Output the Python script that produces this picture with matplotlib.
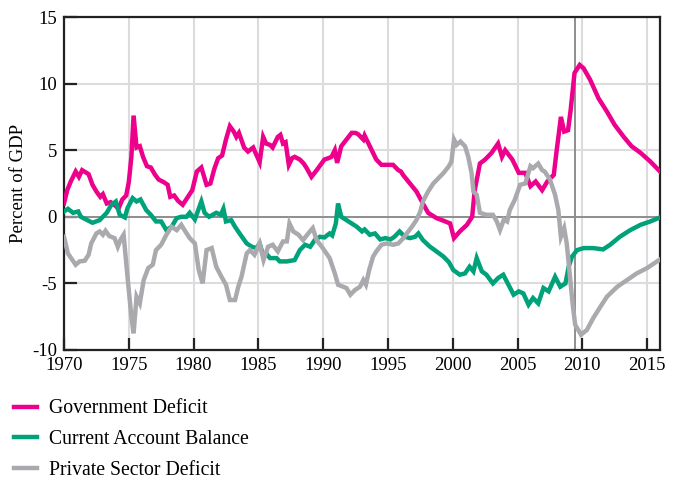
import matplotlib
matplotlib.use("Agg")
import matplotlib.pyplot as plt
from matplotlib.lines import Line2D

plt.rcParams['font.family'] = ['Liberation Serif', 'DejaVu Serif']
plt.rcParams['axes.unicode_minus'] = False

# Government Deficit (percent of GDP)
gov_years = [1970.0, 1970.25, 1970.5, 1970.9, 1971.15, 1971.4, 1971.9, 1972.2, 1972.5, 1972.8,
             1973.0, 1973.3, 1973.6, 1974.0, 1974.2, 1974.5, 1974.8, 1975.0, 1975.2, 1975.37,
             1975.6, 1975.85, 1976.1, 1976.4, 1976.7, 1977.0, 1977.3, 1977.7, 1978.0, 1978.2,
             1978.5, 1978.8, 1979.16, 1979.5, 1979.9, 1980.25, 1980.6, 1981.0, 1981.3, 1981.6,
             1981.9, 1982.2, 1982.5, 1982.8, 1983.1, 1983.3, 1983.5, 1983.9, 1984.2, 1984.6,
             1985.1, 1985.37, 1985.6, 1985.9, 1986.1, 1986.5, 1986.7, 1986.9, 1987.1, 1987.35,
             1987.6, 1987.8, 1988.2, 1988.5, 1988.7, 1989.1, 1989.5, 1989.8, 1990.1, 1990.4,
             1990.65, 1990.9, 1991.08, 1991.4, 1991.8, 1992.2, 1992.5, 1992.7, 1993.1, 1993.2,
             1993.6, 1994.1, 1994.5, 1995.0, 1995.4, 1995.8, 1996.0, 1996.2, 1996.7, 1997.2,
             1997.7, 1998.1, 1998.75, 1999.3, 1999.8, 2000.1, 2000.55, 2001.1, 2001.5, 2001.7,
             2002.1, 2002.5, 2003.0, 2003.5, 2003.8, 2004.05, 2004.6, 2005.1, 2005.6, 2006.0,
             2006.4, 2006.9, 2007.3, 2007.8, 2008.0, 2008.35, 2008.6, 2008.9, 2009.1, 2009.4,
             2009.8, 2010.1, 2010.6, 2011.25, 2011.9, 2012.5, 2013.2, 2013.8, 2014.5, 2015.25,
             2016.0]
gov_deficit = [1.0, 2.0, 2.6, 3.4, 3.0, 3.5, 3.2, 2.4, 1.9, 1.5,
               1.7, 1.0, 1.1, 0.8, 0.6, 1.3, 1.6, 2.6, 4.5, 7.6,
               5.2, 5.3, 4.5, 3.8, 3.7, 3.2, 2.8, 2.6, 2.4, 1.5,
               1.6, 1.2, 0.9, 1.4, 2.0, 3.4, 3.7, 2.4, 2.5, 3.6,
               4.4, 4.6, 5.8, 6.8, 6.4, 6.0, 6.3, 5.2, 4.9, 5.2,
               4.1, 6.0, 5.5, 5.4, 5.2, 6.0, 6.15, 5.5, 5.6, 3.9,
               4.4, 4.5, 4.3, 4.0, 3.7, 3.0, 3.5, 3.9, 4.3, 4.4,
               4.5, 5.0, 4.05, 5.3, 5.8, 6.3, 6.3, 6.2, 5.8, 6.1,
               5.3, 4.3, 3.9, 3.9, 3.9, 3.5, 3.4, 3.1, 2.5, 1.9,
               1.0, 0.3, -0.1, -0.3, -0.5, -1.6, -1.1, -0.6, 0.0, 2.0,
               4.0, 4.3, 4.8, 5.5, 4.5, 5.0, 4.3, 3.3, 3.3, 2.3,
               2.65, 2.0, 2.65, 3.15, 4.8, 7.5, 6.4, 6.5, 8.0, 10.8,
               11.4, 11.15, 10.3, 8.9, 7.9, 6.9, 6.0, 5.3, 4.8, 4.15,
               3.4]

# Current Account Balance
ca_years = [1970.0, 1970.3, 1970.7, 1971.1, 1971.3, 1971.7, 1972.2, 1972.75, 1973.3, 1973.65,
            1974.0, 1974.3, 1974.7, 1974.9, 1975.3, 1975.6, 1975.9, 1976.35, 1976.7, 1977.1,
            1977.5, 1977.9, 1978.3, 1978.7, 1979.05, 1979.45, 1979.7, 1980.1, 1980.6, 1980.85,
            1981.2, 1981.75, 1982.1, 1982.3, 1982.5, 1982.9, 1983.2, 1983.55, 1984.1, 1984.5,
            1984.85, 1985.1, 1985.4, 1985.6, 1985.9, 1986.4, 1986.65, 1987.2, 1987.8, 1988.2,
            1988.6, 1989.0, 1989.35, 1989.75, 1990.1, 1990.5, 1990.7, 1990.98, 1991.15, 1991.4,
            1991.8, 1992.2, 1992.6, 1993.0, 1993.2, 1993.6, 1994.0, 1994.4, 1994.8, 1995.2,
            1995.5, 1995.9, 1996.3, 1996.7, 1997.1, 1997.35, 1997.7, 1998.25, 1998.75, 1999.3,
            1999.7, 2000.05, 2000.55, 2000.95, 2001.3, 2001.6, 2001.85, 2002.25, 2002.6, 2003.1,
            2003.5, 2003.9, 2004.3, 2004.7, 2005.1, 2005.45, 2005.85, 2006.2, 2006.6, 2007.0,
            2007.4, 2007.9, 2008.3, 2008.7, 2008.95, 2009.2, 2009.6, 2010.1, 2010.85, 2011.6,
            2012.15, 2012.9, 2013.7, 2014.5, 2015.25, 2016.0]
current_account = [0.4, 0.6, 0.3, 0.4, 0.0, -0.2, -0.45, -0.25, 0.3, 0.9,
                   1.15, 0.15, -0.05, 0.65, 1.4, 1.15, 1.3, 0.5, 0.15, -0.35,
                   -0.35, -1.0, -0.75, -0.1, 0.0, 0.0, 0.3, -0.2, 1.15, 0.3,
                   0.0, 0.3, 0.15, 0.6, -0.35, -0.25, -0.75, -1.25, -2.0, -2.25,
                   -2.35, -2.0, -3.0, -2.75, -3.1, -3.1, -3.35, -3.35, -3.25, -2.5,
                   -2.1, -2.25, -1.75, -1.5, -1.55, -1.25, -1.4, -0.5, 1.0, 0.0,
                   -0.25, -0.5, -0.75, -1.1, -0.95, -1.35, -1.25, -1.7, -1.6, -1.7,
                   -1.5, -1.1, -1.5, -1.6, -1.5, -1.25, -1.75, -2.25, -2.6, -3.0,
                   -3.4, -4.0, -4.35, -4.25, -3.75, -4.1, -3.1, -4.1, -4.35, -5.0,
                   -4.6, -4.35, -5.1, -5.85, -5.6, -5.75, -6.6, -6.1, -6.5, -5.35,
                   -5.6, -4.5, -5.25, -5.0, -3.75, -3.0, -2.5, -2.35, -2.35, -2.45,
                   -2.1, -1.5, -1.0, -0.6, -0.35, -0.05]

# Private Sector Deficit
ps_years = [1970.0, 1970.3, 1970.55, 1970.9, 1971.2, 1971.6, 1971.9, 1972.1, 1972.5, 1972.75,
            1973.0, 1973.2, 1973.5, 1973.9, 1974.15, 1974.35, 1974.6, 1974.9, 1975.2, 1975.37,
            1975.6, 1975.85, 1976.15, 1976.5, 1976.85, 1977.1, 1977.5, 1977.9, 1978.3, 1978.7,
            1979.05, 1979.3, 1979.7, 1980.1, 1980.4, 1980.7, 1981.0, 1981.4, 1981.75, 1982.15,
            1982.5, 1982.8, 1983.2, 1983.45, 1983.7, 1984.1, 1984.35, 1984.7, 1985.1, 1985.4,
            1985.75, 1986.1, 1986.5, 1986.9, 1987.2, 1987.4, 1987.7, 1988.1, 1988.45, 1988.85,
            1989.2, 1989.5, 1989.9, 1990.25, 1990.5, 1990.9, 1991.15, 1991.55, 1991.8, 1992.1,
            1992.45, 1992.85, 1993.1, 1993.3, 1993.55, 1993.85, 1994.1, 1994.5, 1994.9, 1995.4,
            1995.8, 1996.2, 1996.45, 1996.85, 1997.2, 1997.5, 1997.7, 1998.1, 1998.5, 1998.9,
            1999.3, 1999.7, 1999.9, 2000.1, 2000.3, 2000.6, 2000.95, 2001.2, 2001.45, 2001.6,
            2001.85, 2002.1, 2002.6, 2003.1, 2003.4, 2003.65, 2003.95, 2004.2, 2004.4, 2004.8,
            2005.2, 2005.6, 2006.0, 2006.2, 2006.6, 2006.9, 2007.1, 2007.5, 2007.9, 2008.15,
            2008.35, 2008.6, 2008.8, 2009.05, 2009.25, 2009.45, 2009.9, 2010.35, 2010.85, 2011.4,
            2011.9, 2012.7, 2013.45, 2014.2, 2015.0, 2016.0]
private_sector = [-1.5, -2.75, -3.1, -3.6, -3.35, -3.3, -2.85, -2.0, -1.25, -1.1,
                  -1.35, -1.05, -1.45, -1.6, -2.25, -1.75, -1.35, -4.5, -7.5, -8.75,
                  -6.0, -6.5, -4.75, -3.85, -3.6, -2.5, -2.1, -1.35, -0.75, -1.0,
                  -0.6, -1.0, -1.6, -2.0, -4.0, -5.0, -2.5, -2.35, -3.75, -4.5,
                  -5.1, -6.25, -6.25, -5.25, -4.5, -2.75, -2.5, -2.85, -2.0, -3.25,
                  -2.25, -2.1, -2.6, -1.85, -1.85, -0.5, -1.1, -1.35, -1.75, -1.25,
                  -0.85, -1.75, -2.25, -2.75, -3.1, -4.25, -5.1, -5.25, -5.35, -5.85,
                  -5.5, -5.25, -4.75, -5.1, -4.0, -3.0, -2.6, -2.1, -2.0, -2.1,
                  -2.0, -1.6, -1.25, -0.75, -0.25, 0.4, 1.15, 1.9, 2.5, 2.9,
                  3.3, 3.8, 4.15, 5.8, 5.4, 5.65, 5.3, 4.5, 3.3, 1.9,
                  1.65, 0.3, 0.15, 0.15, -0.35, -1.0, -0.2, -0.35, 0.5, 1.3,
                  2.4, 2.5, 3.8, 3.65, 4.0, 3.5, 3.4, 2.8, 1.65, 0.5,
                  -1.5, -0.85, -2.0, -4.5, -6.5, -8.1, -8.85, -8.5, -7.6, -6.75,
                  -6.0, -5.25, -4.75, -4.25, -3.85, -3.2]

labels = ["Government Deficit", "Current Account Balance", "Private Sector Deficit"]
colors = ["#EC008C", "#00A27A", "#AAAAAE"]

fig = plt.figure(figsize=(6.78, 4.82), dpi=100)
ax = fig.add_axes([0.0944, 0.2739, 0.8791, 0.6908])

ax.plot(gov_years, gov_deficit, color=colors[0], lw=3.2, solid_joinstyle='miter', zorder=3)
ax.plot(ca_years, current_account, color=colors[1], lw=3.2, solid_joinstyle='miter', zorder=3)
ax.plot(ps_years, private_sector, color=colors[2], lw=3.2, solid_joinstyle='miter', zorder=3)

ax.axhline(0, color="#8E8E8E", lw=1.4, zorder=2)
ax.axvline(2009.45, color="#8E8E8E", lw=1.4, zorder=2)

ax.set_xlim(1970, 2016)
ax.set_ylim(-10, 15)
ax.set_xticks(range(1970, 2016, 5))
ax.set_yticks(range(-10, 16, 5))
ax.grid(True, color="#DCDCDC", lw=1.5, zorder=0)
ax.set_axisbelow(True)
ax.tick_params(direction='in', length=9, width=1.6, labelsize=13.5, color="#222222", pad=5)
for s in ax.spines.values():
    s.set_linewidth(1.6)
    s.set_color("#222222")
ax.set_ylabel("Percent of GDP", fontsize=13.5)

handles = [Line2D([], [], color=c, lw=3.2) for c in colors]
fig.legend(handles, labels, loc='upper left', bbox_to_anchor=(0.0, 0.2), frameon=False,
           fontsize=14.2, handlelength=1.2, handletextpad=0.6, labelspacing=0.6,
           borderaxespad=0.3)

fig.savefig("out.png", dpi=100)
